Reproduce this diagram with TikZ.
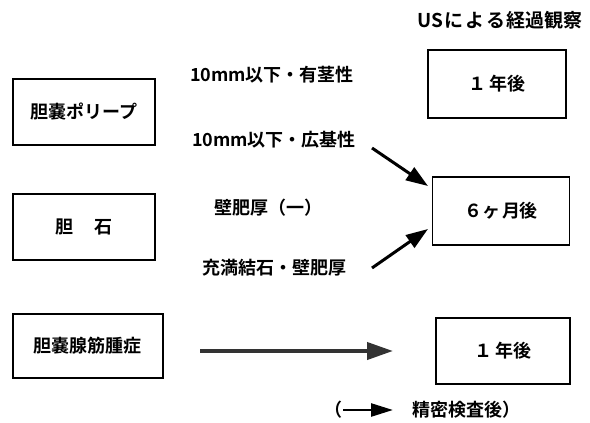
\documentclass[tikz,border=0pt]{standalone}
\usepackage{fontspec}
\newfontfamily\jp[BoldFont={Noto Sans CJK JP Bold}]{Noto Sans CJK JP}
\usetikzlibrary{arrows.meta}
\begin{document}
\begin{tikzpicture}[x=1pt,y=-1pt,
  font=\jp\fontsize{18}{21}\selectfont\bfseries,
  box/.style={draw, line width=1.4pt, inner sep=0pt},
  lbl/.style={inner sep=0pt},
  bigarrow/.style={line width=3pt, -{Triangle[length=22pt,width=15pt]}},
  grayarrow/.style={line width=4pt, color=black!80, -{Triangle[length=26pt,width=17pt]}}]
\useasboundingbox (0,0) rectangle (590,423);
% title
\node[lbl, font=\jp\fontsize{19}{22}\selectfont\bfseries] (title) at (500,20) {US\hspace{1pt}に\hspace{2pt}よ\hspace{2pt}る\hspace{1pt}経過観察};
% left boxes
\node[box, minimum width=142pt, minimum height=66pt] (p) at (84,112) {胆嚢ポリープ};
\node[box, minimum width=142pt, minimum height=66pt] (s) at (84,227) {胆\hspace{22pt}石};
\node[box, minimum width=150pt, minimum height=64pt] (a) at (88,346) {胆嚢腺筋腫症};
% right boxes
\node[box, minimum width=138pt, minimum height=68pt] (t1) at (497,84) {１\hspace{3pt}年後};
\node[box, minimum width=137pt, minimum height=68pt] (m6) at (501,211) {６\hspace{1pt}ヶ\hspace{1pt}月後};
\node[box, minimum width=134pt, minimum height=66pt] (t2) at (503,351) {１\hspace{3pt}年後};
% labels
\node[lbl] (l1) at (272,75) {10mm以下・有茎性};
\node[lbl] (l2) at (274,140) {10mm以下・広基性};
\node[lbl] (l3) at (268,208) {壁肥厚（一）};
\node[lbl] (l4) at (274,268) {充満結石・壁肥厚};
% arrows
\coordinate (u0) at (372,148);
\coordinate (u1) at (428,186);
\coordinate (d0) at (372,268);
\coordinate (d1) at (428,229);
\draw[bigarrow] (u0) -- (u1);
\draw[bigarrow] (d0) -- (d1);
\coordinate (g0) at (200,351);
\coordinate (g1) at (393,351);
\draw[grayarrow] (g0) -- (g1);
% legend
\node[lbl] (lp) at (333,410) {（};
\coordinate (k0) at (343,410);
\coordinate (k1) at (393,410);
\draw[line width=2.5pt, -{Triangle[length=22pt,width=13pt]}] (k0) -- (k1);
\node[lbl, anchor=west] (lt) at (412,410) {精密検査後）};
\end{tikzpicture}
\end{document}
